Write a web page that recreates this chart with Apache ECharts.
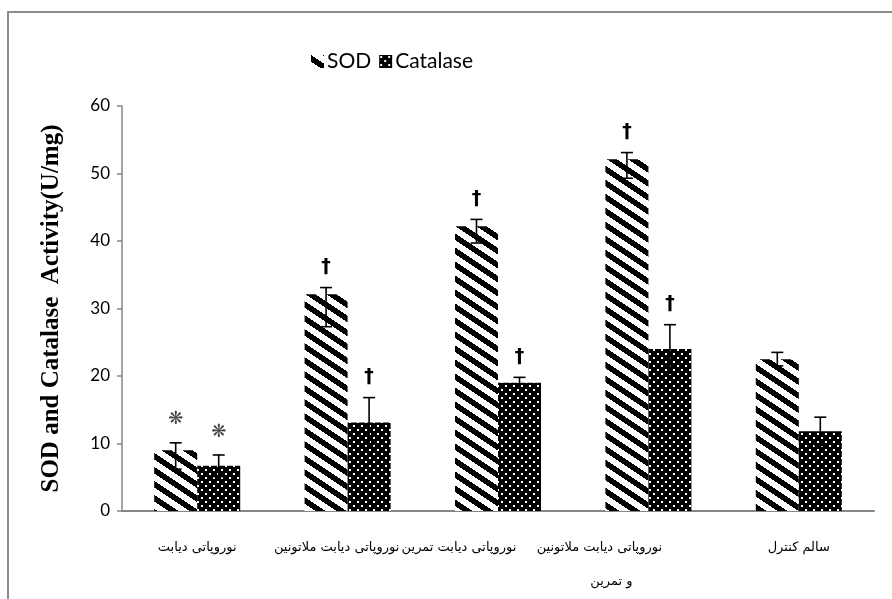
<!DOCTYPE html>
<html>
<head>
<meta charset="utf-8">
<script src="https://cdn.jsdelivr.net/npm/echarts@6/dist/echarts.min.js"></script>
<style>
html,body{margin:0;padding:0;background:#fff;}
#chart{width:892px;height:599px;}
</style>
</head>
<body>
<div id="chart"></div>
<script>
// ---- data ----
const categories = [
  'نوروپاتی دیابت',
  'نوروپاتی دیابت ملاتونین',
  'نوروپاتی دیابت تمرین',
  'نوروپاتی دیابت ملاتونین\nو تمرین',
  'سالم کنترل'
];
const sodValues = [9.0, 32.1, 42.2, 52.1, 22.5];
const sodErrLow = [6.2, 27.3, 39.7, 49.3, 21.5];
const sodErrHigh = [10.1, 33.1, 43.2, 53.1, 23.5];
const catValues = [6.7, 13.1, 19.0, 24.0, 11.8];
const catErrLow = [5.1, 9.4, 18.2, 20.4, 9.7];
const catErrHigh = [8.3, 16.8, 19.8, 27.6, 13.9];
const sodMarks = ['❋', '†', '†', '†', ''];
const catMarks = ['❋', '†', '†', '†', ''];
const yTicks = [0, 10, 20, 30, 40, 50, 60];

// ---- layout (label shifts in px, per category / per line) ----
const labelShiftPx = [[0], [11], [39], [49, 37], [0]];

// ---- patterns ----
function makeStripe() {
  const w = 21, h = 14;
  const c = document.createElement('canvas');
  c.width = w; c.height = h;
  const ctx = c.getContext('2d');
  const img = ctx.createImageData(w, h);
  for (let y = 0; y < h; y++) {
    for (let x = 0; x < w; x++) {
      let v = (y - 2 * x / 3) % 14; if (v < 0) v += 14;
      const black = v < 6.5;
      const i = (y * w + x) * 4;
      const c0 = black ? 0 : 255;
      img.data[i] = c0; img.data[i + 1] = c0; img.data[i + 2] = c0; img.data[i + 3] = 255;
    }
  }
  ctx.putImageData(img, 0, 0);
  return c;
}
function makeDots() {
  const c = document.createElement('canvas');
  c.width = 8; c.height = 8;
  const ctx = c.getContext('2d');
  ctx.fillStyle = '#000'; ctx.fillRect(0, 0, 8, 8);
  ctx.fillStyle = '#fff';
  ctx.fillRect(1, 1, 2, 2);
  ctx.fillRect(5, 5, 2, 2);
  return c;
}
const stripePattern = { image: makeStripe(), repeat: 'repeat' };
const dotPattern = { image: makeDots(), repeat: 'repeat' };

const BAR_W = 43;

function errSeries(name, side, lows, highs, marks) {
  const data = lows.map((l, i) => [i, l, highs[i]]);
  return {
    type: 'custom',
    name: name + '_err',
    z: 10,
    silent: true,
    data: data,
    encode: { x: 0, y: [1, 2] },
    renderItem: function (params, api) {
      const i = api.value(0);
      const lo = api.coord([i, api.value(1)]);
      const hi = api.coord([i, api.value(2)]);
      const x = lo[0] + side * BAR_W / 2;
      const cap = 6;
      const st = { stroke: '#000', lineWidth: 1.6 };
      const children = [
        { type: 'line', shape: { x1: x, y1: lo[1], x2: x, y2: hi[1] }, style: st },
        { type: 'line', shape: { x1: x - cap, y1: hi[1], x2: x + cap, y2: hi[1] }, style: st },
        { type: 'line', shape: { x1: x - cap, y1: lo[1], x2: x + cap, y2: lo[1] }, style: st }
      ];
      const m = marks[params.dataIndex];
      if (m) {
        const star = m === '❋';
        children.push({
          type: 'text',
          style: {
            text: m, x: x, y: hi[1] - (star ? 14 : 11),
            align: 'center', verticalAlign: 'bottom',
            fill: star ? '#444' : '#000',
            font: star ? 'bold 18px "DejaVu Sans"' : 'bold 19px "DejaVu Sans"'
          }
        });
      }
      return { type: 'group', children: children };
    }
  };
}

// rich styles for shifting x-axis labels
const rich = {};
labelShiftPx.forEach((arr, ci) => {
  arr.forEach((s, li) => {
    rich['c' + ci + '_' + li] = {
      fontFamily: 'DejaVu Sans', fontSize: 13, color: '#000', lineHeight: 34,
      padding: [0, 2 * s, 0, 0]
    };
  });
});

const chart = echarts.init(document.getElementById('chart'));
chart.setOption({
  animation: false,
  backgroundColor: '#fff',
  graphic: [{
    type: 'rect', silent: true, z: -1,
    shape: { x: 8, y: 12, width: 900, height: 600 },
    style: { fill: 'none', stroke: '#8c8c8c', lineWidth: 2 }
  }],
  legend: {
    data: ['SOD', 'Catalase'],
    left: 306, top: 46,
    itemWidth: 13, itemHeight: 13, itemGap: 8,
    icon: 'rect',
    textStyle: { fontFamily: 'Lato', fontSize: 21, color: '#000', padding: [0, 0, 0, -2] }
  },
  grid: { left: 122, right: 18, top: 106, bottom: 88, containLabel: false },
  xAxis: {
    type: 'category',
    data: categories,
    axisLine: { lineStyle: { color: '#868686', width: 2 } },
    axisTick: { show: false },
    axisLabel: {
      interval: 0, margin: 20,
      fontFamily: 'DejaVu Sans', fontSize: 13, color: '#000', lineHeight: 34,
      rich: rich,
      formatter: function (value, idx) {
        return value.split('\n').map((line, li) => {
          const key = 'c' + idx + '_' + Math.min(li, labelShiftPx[idx].length - 1);
          return '{' + key + '|' + line + '}';
        }).join('\n');
      }
    }
  },
  yAxis: {
    type: 'value', min: 0, max: 60, interval: 10,
    name: 'SOD and Catalase  Activity(U/mg)',
    nameLocation: 'middle', nameGap: 58,
    nameTextStyle: { fontFamily: 'Liberation Serif', fontWeight: 'bold', fontSize: 25, color: '#000' },
    axisLine: { show: true, lineStyle: { color: '#868686', width: 1.5 } },
    axisTick: { show: true, length: 5, lineStyle: { color: '#868686', width: 1.5 } },
    splitLine: { show: false },
    axisLabel: {
      margin: 12, fontFamily: 'Lato', fontSize: 17, color: '#000',
      formatter: v => yTicks.includes(v) ? String(v) : ''
    }
  },
  series: [
    { type: 'bar', name: 'SOD', data: sodValues, barWidth: BAR_W, barGap: '0%',
      itemStyle: { color: stripePattern } },
    { type: 'bar', name: 'Catalase', data: catValues, barWidth: BAR_W, barGap: '0%',
      itemStyle: { color: dotPattern } },
    errSeries('SOD', -1, sodErrLow, sodErrHigh, sodMarks),
    errSeries('Catalase', 1, catErrLow, catErrHigh, catMarks)
  ]
});
</script>
</body>
</html>
